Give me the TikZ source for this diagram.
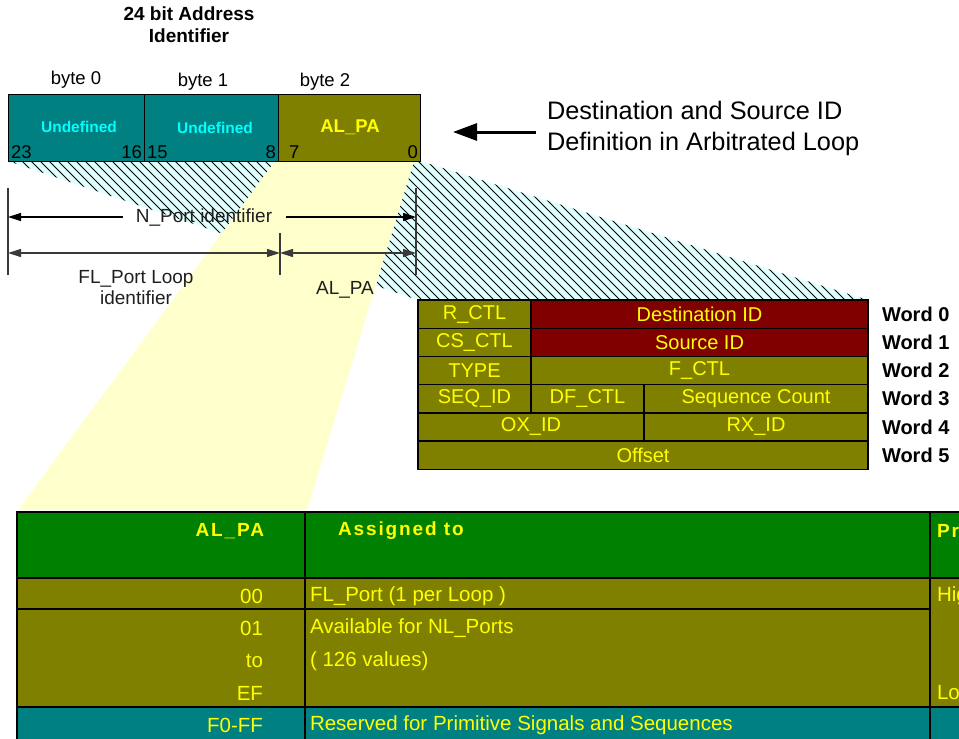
\documentclass[tikz,border=0pt]{standalone}
\usepackage{fontspec}
\setmainfont{Liberation Sans}
\usetikzlibrary{arrows.meta}

\definecolor{fcTeal}{HTML}{008080}
\definecolor{fcOlive}{HTML}{808000}
\definecolor{fcMaroon}{HTML}{800000}
\definecolor{fcGreen}{HTML}{008000}
\definecolor{fcYellow}{HTML}{FFFF00}
\definecolor{fcCyan}{HTML}{00FFFF}
\definecolor{fcPale}{HTML}{FFFFCC}
\definecolor{fcIce}{HTML}{E0FFFF}
\definecolor{fcDim}{HTML}{3A3A3A}

\tikzset{
  every node/.style={inner sep=0pt, outer sep=0pt},
  bytebox/.style={draw=black, line width=1pt, rectangle, anchor=north west, minimum height=67pt},
  fcell/.style={draw=black, line width=1.4pt, rectangle, anchor=north west,
    minimum height=28.2pt, text=fcYellow, font=\fontsize{20}{24}\selectfont},
  tcell/.style={draw=black, line width=2.4pt, rectangle, anchor=north west},
  ytext/.style={text=fcYellow, font=\fontsize{20.5}{24}\selectfont},
  yhead/.style={text=fcYellow, font=\fontsize{19}{22}\bfseries\addfontfeatures{LetterSpace=10}},
  bitnum/.style={font=\fontsize{18.5}{22}\selectfont},
  bytelbl/.style={font=\fontsize{18.5}{22}\selectfont},
  dimtxt/.style={text=black!88, font=\fontsize{19}{21}\selectfont, align=center},
  wordlbl/.style={anchor=west, font=\fontsize{20}{24}\bfseries},
  dimline/.style={draw=fcDim, line width=1.2pt},
  hatchline/.style={draw=black, line width=0.9pt},
  dimtip/.style={-{Triangle[length=13pt,width=8pt]}},
  dimtips/.style={{Triangle[length=13pt,width=8pt]}-{Triangle[length=13pt,width=8pt]}},
}

\begin{document}
\begin{tikzpicture}[x=1pt,y=-1pt]
\useasboundingbox (0,0) rectangle (959,739);
\clip (0,0) rectangle (959,739);

% projection of the address onto the frame header (hatched)
\begin{scope}
  \clip (8,161) -- (420,161) -- (868,300) -- (418,300) -- cycle;
  \fill[fcIce] (0,150) rectangle (900,310);
  \foreach \c in {-160,-151,...,880} \draw[hatchline] (\c,150) -- ++(160,160);
\end{scope}
% projection of byte 2 onto the AL_PA table
\fill[fcPale] (275,161) -- (414,161) -- (307,510) -- (18,510) -- cycle;

% title
\node[align=center, font=\fontsize{19}{22}\bfseries] (title) at (189,25) {24 bit Address\\Identifier};

% 24 bit address identifier
\node[bytelbl] (lb0) at (76,80) {byte 0};
\node[bytelbl] (lb1) at (203,82) {byte 1};
\node[bytelbl] (lb2) at (325,82) {byte 2};
\node[bytebox, fill=fcTeal, minimum width=136pt] (b0) at (8,94) {};
\node[bytebox, fill=fcTeal, minimum width=134pt] (b1) at (144,94) {};
\node[bytebox, fill=fcOlive, minimum width=142pt] (b2) at (278,94) {};
\node[text=fcCyan, font=\fontsize{15.5}{18}\bfseries] (u0) at (79,127) {Undefined};
\node[text=fcCyan, font=\fontsize{15.5}{18}\bfseries] (u1) at (215,128) {Undefined};
\node[text=fcYellow, font=\fontsize{18.5}{22}\bfseries] (alpa) at (350,127) {AL\_PA};
\node[bitnum, anchor=west] (n23) at (11,152) {23};
\node[bitnum, anchor=east] (n16) at (142,152) {16};
\node[bitnum, anchor=west] (n15) at (147,152) {15};
\node[bitnum, anchor=east] (n8) at (276,152) {8};
\node[bitnum, anchor=west] (n7) at (289,152) {7};
\node[bitnum, anchor=east] (n0) at (418,152) {0};

% explanation with arrow
\node[anchor=west, align=left, font=\fontsize{25.3}{31}\selectfont] (dest) at (547,128)
  {Destination and Source ID\\Definition in Arbitrated Loop};
\coordinate (arrTail) at (536,132);
\coordinate (arrHead) at (453,132);
\draw[line width=3pt, -{Triangle[length=24pt,width=17pt]}] (arrTail) -- (arrHead);

% dimension lines
\coordinate (tL1) at (8,188);   \coordinate (tL2) at (8,275);
\coordinate (tM1) at (280,233); \coordinate (tM2) at (280,275);
\coordinate (tR1) at (416,188); \coordinate (tR2) at (416,275);
\draw[dimline] (tL1) -- (tL2);
\draw[dimline] (tM1) -- (tM2);
\draw[dimline] (tR1) -- (tR2);

\node[dimtxt] (nport) at (204,218) {N\_Port identifier};
\coordinate (npL) at (8,217);
\coordinate (npR) at (416,217);
\draw[dimline, draw=black, dimtip] ([xshift=-13pt]nport.west |- npL) -- (npL);
\draw[dimline, draw=black, dimtip] ([xshift=14pt]nport.east |- npR) -- (npR);

\coordinate (flL) at (8,253);
\coordinate (flM) at (280,253);
\coordinate (flR) at (416,253);
\draw[dimline, dimtips] (flL) -- (flM);
\draw[dimline, dimtips] (flM) -- (flR);
\node[dimtxt] (flport) at (136,288) {FL\_Port Loop\\identifier};
\node[dimtxt] (alpadim) at (345,290) {AL\_PA};

% frame header words 0 to 5
\node[fcell, fill=fcOlive,  minimum width=113pt] (rctl)  at (418,300)   {R\_CTL};
\node[fcell, fill=fcMaroon, minimum width=337pt] (did)   at (531,300)   {Destination ID};
\node[fcell, fill=fcOlive,  minimum width=113pt] (csctl) at (418,328.2) {CS\_CTL};
\node[fcell, fill=fcMaroon, minimum width=337pt] (sid)   at (531,328.2) {Source ID};
\node[fcell, fill=fcOlive,  minimum width=113pt] (type)  at (418,356.4) {TYPE};
\node[fcell, fill=fcOlive,  minimum width=337pt] (fctl)  at (531,356.4) {F\_CTL};
\node[fcell, fill=fcOlive,  minimum width=113pt] (seqid) at (418,384.6) {SEQ\_ID};
\node[fcell, fill=fcOlive,  minimum width=113pt] (dfctl) at (531,384.6) {DF\_CTL};
\node[fcell, fill=fcOlive,  minimum width=224pt] (seqcnt) at (644,384.6) {Sequence Count};
\node[fcell, fill=fcOlive,  minimum width=226pt] (oxid)  at (418,412.8) {OX\_ID};
\node[fcell, fill=fcOlive,  minimum width=224pt] (rxid)  at (644,412.8) {RX\_ID};
\node[fcell, fill=fcOlive,  minimum width=450pt] (offs)  at (418,441)   {Offset};

\node[wordlbl] (w0) at (882,314.1) {Word 0};
\node[wordlbl] (w1) at (882,342.3) {Word 1};
\node[wordlbl] (w2) at (882,370.5) {Word 2};
\node[wordlbl] (w3) at (882,398.7) {Word 3};
\node[wordlbl] (w4) at (882,426.9) {Word 4};
\node[wordlbl] (w5) at (882,455.1) {Word 5};

% AL_PA assignment table
\node[tcell, fill=fcGreen, minimum width=288pt, minimum height=66pt] (hA) at (17,512) {};
\node[tcell, fill=fcGreen, minimum width=625pt, minimum height=66pt] (hB) at (305,512) {};
\node[tcell, fill=fcGreen, minimum width=80pt,  minimum height=66pt] (hC) at (930,512) {};
\node[tcell, fill=fcOlive, minimum width=288pt, minimum height=31pt] (aA) at (17,578) {};
\node[tcell, fill=fcOlive, minimum width=625pt, minimum height=31pt] (aB) at (305,578) {};
\node[tcell, fill=fcOlive, minimum width=288pt, minimum height=98pt] (bA) at (17,609) {};
\node[tcell, fill=fcOlive, minimum width=625pt, minimum height=98pt] (bB) at (305,609) {};
\node[tcell, fill=fcOlive, minimum width=80pt,  minimum height=129pt] (pC) at (930,578) {};
\node[tcell, fill=fcTeal,  minimum width=288pt, minimum height=60pt] (cA) at (17,707) {};
\node[tcell, fill=fcTeal,  minimum width=625pt, minimum height=60pt] (cB) at (305,707) {};
\node[tcell, fill=fcTeal,  minimum width=80pt,  minimum height=60pt] (cC) at (930,707) {};

\node[yhead, anchor=east] (thA) at (264,531) {AL\_PA};
\node[yhead, anchor=west] (thB) at (338,531) {Assigned to};
\node[yhead, anchor=west] (thC) at (937,531) {Pr};

\node[ytext, anchor=east] (v00) at (263,596) {00};
\node[ytext, anchor=east] (v01) at (263,628) {01};
\node[ytext, anchor=east] (vto) at (263,661) {to};
\node[ytext, anchor=east] (vEF) at (263,693) {EF};
\node[ytext, anchor=east] (vF0) at (263,725) {F0-FF};

\node[ytext, anchor=west] (d00) at (310,596) {FL\_Port (1 per Loop )};
\node[ytext, anchor=west] (d01) at (310,628) {Available for NL\_Ports};
\node[ytext, anchor=west] (d02) at (310,661) {( 126 values)};
\node[ytext, anchor=west] (dF0) at (310,725) {Reserved for Primitive Signals and Sequences};

\node[ytext, anchor=west] (pHi) at (937,596) {Hig};
\node[ytext, anchor=west] (pLo) at (937,693) {Lo};
\end{tikzpicture}
\end{document}
